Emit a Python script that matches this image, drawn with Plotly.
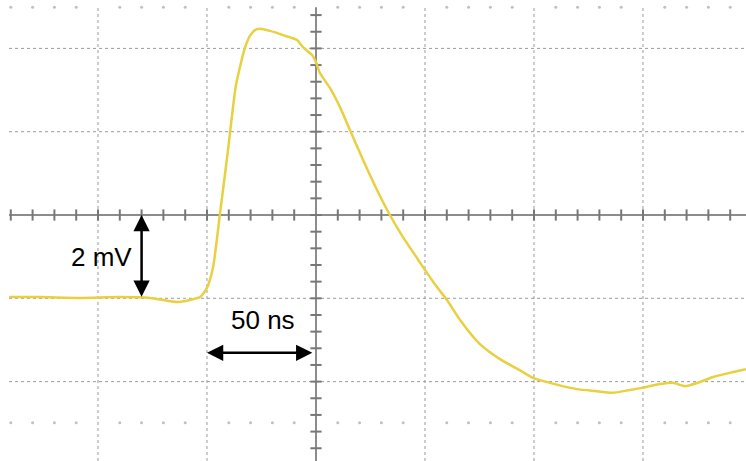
import plotly.graph_objects as go

# Waveform (time in ns, voltage in mV)
time_ns = [-140.8, -126.6, -108.3, -89.9, -76.1, -63.8, -57.8, -53.2, -50.0, -47.2,
           -44.0, -40.8, -39.4, -36.7, -32.6, -30.3, -28.0, -25.7, -21.1, -15.1,
           -8.7, -6.0, -1.8, 0.0, 1.8, 6.4, 11.0, 15.6, 21.6, 28.0,
           33.9, 39.9, 46.3, 49.1, 55.5, 60.1, 66.1, 75.2, 84.4, 93.6,
           99.5, 107.3, 119.7, 128.9, 135.8, 144.0, 149.5, 157.8, 163.8, 169.3,
           176.1, 182.1, 191.3, 197.2]
volt_mv = [-1.97, -1.97, -1.99, -1.97, -1.99, -2.09, -2.04, -1.97, -1.75, -1.25,
           0.05, 1.37, 1.99, 3.12, 4.01, 4.30, 4.44, 4.47, 4.42, 4.32,
           4.20, 4.03, 3.84, 3.67, 3.41, 3.05, 2.59, 2.04, 1.32, 0.60,
           0.00, -0.53, -1.03, -1.25, -1.73, -2.04, -2.52, -3.10, -3.46, -3.73,
           -3.91, -4.03, -4.18, -4.23, -4.27, -4.20, -4.15, -4.06, -4.03, -4.11,
           -4.01, -3.89, -3.77, -3.70]

# Graticule (50 ns/div, 2 mV/div)
v_grid_t = [-100, -50, 50, 100, 150]
h_grid_v = [4, 2, -2, -4]
minor_t = list(range(-140, 200, 10))
minor_v = [round(-5.6 + 0.4 * i, 1) for i in range(28)]

T_MIN, T_MAX = -144.95, 197.25
V_MIN, V_MAX = -5.906, 5.162
GRID_T0 = -140.8
GRID_V1 = 4.99

grid_col = "#9a9a9a"
axis_col = "#8c8c8c"

fig = go.Figure()

shapes = []
for t in v_grid_t:
    shapes.append(dict(type="line", x0=t, x1=t, y0=V_MIN, y1=GRID_V1, xref="x", yref="y",
                       line=dict(color=grid_col, width=1, dash="dot"), layer="below"))
for v in h_grid_v:
    shapes.append(dict(type="line", x0=GRID_T0, x1=T_MAX, y0=v, y1=v, xref="x", yref="y",
                       line=dict(color=grid_col, width=1, dash="dot"), layer="below"))
# centre axes
shapes.append(dict(type="line", x0=GRID_T0, x1=T_MAX, y0=0, y1=0, xref="x", yref="y",
                   line=dict(color=axis_col, width=2), layer="below"))
shapes.append(dict(type="line", x0=0, x1=0, y0=V_MIN, y1=GRID_V1, xref="x", yref="y",
                   line=dict(color=axis_col, width=2), layer="below"))

# tick marks on centre axes
fig.add_trace(go.Scatter(x=[t for t in minor_t if t != 0], y=[0] * (len(minor_t) - 1),
                         mode="markers", hoverinfo="skip",
                         marker=dict(symbol="line-ns-open", size=8, color="#777",
                                     line=dict(width=2, color="#777"))))
fig.add_trace(go.Scatter(x=[0] * len(minor_v), y=minor_v, mode="markers", hoverinfo="skip",
                         marker=dict(symbol="line-ew-open", size=8, color="#777",
                                     line=dict(width=2, color="#777"))))

# faint dot rows at top and bottom
dot_t = [t for t in minor_t if t % 50 != 0]
fig.add_trace(go.Scatter(x=dot_t + dot_t, y=[GRID_V1] * len(dot_t) + [-GRID_V1] * len(dot_t),
                         mode="markers", hoverinfo="skip",
                         marker=dict(symbol="circle", size=3, color="#c0c0c0")))

# waveform
fig.add_trace(go.Scatter(x=time_ns, y=volt_mv, mode="lines", hoverinfo="skip",
                         line=dict(color="#e8d040", width=2.5, shape="spline", smoothing=0.6)))

annotations = [
    dict(x=-80, y=0, ax=-80, ay=-2, xref="x", yref="y", axref="x", ayref="y",
         text="", showarrow=True, arrowhead=2, arrowside="end+start", arrowsize=1.3,
         arrowwidth=2.5, arrowcolor="black"),
    dict(x=-50, y=-3.31, ax=-1, ay=-3.31, xref="x", yref="y", axref="x", ayref="y",
         text="", showarrow=True, arrowhead=2, arrowside="end+start", arrowsize=1.3,
         arrowwidth=2.5, arrowcolor="black"),
    dict(x=-98.2, y=-1.01, xref="x", yref="y", text="2 mV", showarrow=False,
         font=dict(family="Liberation Sans, Arial, sans-serif", size=26, color="black")),
    dict(x=-24.3, y=-2.52, xref="x", yref="y", text="50 ns", showarrow=False,
         font=dict(family="Liberation Sans, Arial, sans-serif", size=26, color="black")),
]

fig.update_layout(
    width=746, height=461,
    margin=dict(l=0, r=0, t=0, b=0),
    paper_bgcolor="white", plot_bgcolor="white",
    showlegend=False,
    shapes=shapes,
    annotations=annotations,
    xaxis=dict(range=[T_MIN, T_MAX], visible=False, fixedrange=True),
    yaxis=dict(range=[V_MIN, V_MAX], visible=False, fixedrange=True),
)

fig.write_html("out.html", config={"displayModeBar": False},
               post_script="document.body.style.margin='0';document.body.style.overflow='hidden';")
